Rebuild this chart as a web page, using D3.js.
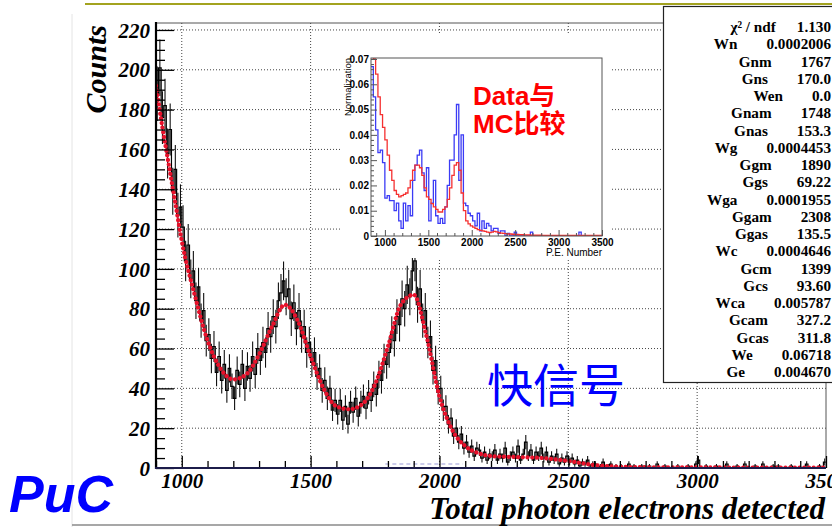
<!DOCTYPE html>
<html>
<head>
<meta charset="utf-8">
<script src="https://cdn.jsdelivr.net/npm/d3@7"></script>
<style>
  body { margin: 0; background: #fff; }
  svg { display: block; }
</style>
</head>
<body>
<script>
// main histogram, 10 p.e. bins starting at 900
var binStart = 900, binWidth = 10;
var counts = [
  188, 201, 176, 182, 158, 170, 139, 150, 127, 131,
  121, 104, 112, 95, 99, 84, 91, 74, 79, 64,
  67, 55, 61, 48, 56, 44, 52, 39, 50, 41,
  35, 49, 42, 52, 40, 51, 45, 56, 47, 60,
  54, 63, 58, 70, 66, 76, 71, 84, 88, 94,
  86, 90, 75, 83, 70, 79, 66, 71, 58, 63,
  53, 58, 46, 50, 39, 44, 35, 40, 29, 34,
  27, 34, 24, 31, 22, 33, 28, 35, 26, 33,
  36, 30, 38, 34, 42, 37, 47, 44, 55, 52,
  58, 68, 64, 76, 72, 85, 80, 92, 86, 99,
  104, 82, 90, 74, 79, 63, 66, 49, 54, 38,
  40, 29, 31, 22, 25, 16, 20, 13, 17, 10,
  13, 8, 11, 6, 10, 9, 5, 8, 4, 7,
  6, 9, 4, 7, 5, 10, 3, 6, 8, 5,
  11, 4, 7, 13, 6, 9, 4, 8, 6, 10,
  5, 8, 3, 6, 4, 7, 2, 5, 3, 6,
  3, 5, 2, 4, 1, 3, 2, 4, 1, 2,
  2, 0, 1, 3, 0, 1, 2, 0, 1, 0,
  1, 0, 0, 2, 0, 1, 0, 0, 1, 0,
  0, 1, 0, 0, 2, 0, 0, 1, 0, 0,
  0, 0, 1, 0, 0, 0, 1, 0, 0, 2,
  4, 0, 0, 1, 0, 0, 0, 1, 0, 0,
  0, 2, 0, 0, 0, 1, 0, 0, 2, 0,
  0, 0, 1, 0, 0, 2, 0, 0, 0, 1,
  0, 1, 0, 0, 0, 0, 1, 0, 0, 0,
  0, 0, 2, 0, 0, 0, 0, 1, 0, 3
];

// fit function
var fitX = [900, 925, 950, 975, 1000, 1050, 1100, 1150, 1200, 1250, 1300, 1350, 1400, 1450, 1500,
            1550, 1600, 1650, 1700, 1750, 1800, 1850, 1900, 1950, 2000, 2050, 2100, 2150, 2200,
            2300, 2400, 2500, 2600, 2700, 2800, 3000, 3500];
var fitY = [192, 171, 152, 133, 114, 87, 64, 50, 44.5, 47, 57, 71, 82, 74, 56,
            40, 31, 29.5, 32, 42, 61, 82, 87, 66, 36, 19, 11, 7.5, 6,
            5.5, 5, 3.5, 1.5, 0.6, 0.4, 0.3, 0.2];

// flat fit component (dashed)
var compX = [1790, 2090];
var compY = [2, 2];

var xTicks = [1000, 1500, 2000, 2500, 3000, 3500];
var yTicks = [0, 20, 40, 60, 80, 100, 120, 140, 160, 180, 200, 220];

// inset: Data vs MC, 100 bins from 840 to 3500
var insetStart = 840, insetBin = 26.6;
var dataNorm = [
  0.067, 0.055, 0.042, 0.033, 0.034, 0.029, 0.015, 0.016, 0.014, 0.014,
  0.010, 0.013, 0.006, 0.003, 0.013, 0.006, 0.012, 0.008, 0.022, 0.028,
  0.032, 0.034, 0.025, 0.018, 0.027, 0.006, 0.013, 0.022, 0.008, 0.005,
  0.007, 0.005, 0.0115, 0.020, 0.030, 0.030, 0.040, 0.052, 0.022, 0.040,
  0.013, 0.012, 0.009, 0.008, 0.006, 0.004, 0.009, 0.002, 0.006, 0.003,
  0.005, 0.004, 0.002, 0.003, 0.003, 0.001, 0.002, 0.002, 0, 0.001,
  0, 0, 0.0015, 0, 0, 0, 0, 0, 0, 0.0015,
  0, 0, 0, 0, 0, 0, 0, 0, 0, 0,
  0, 0, 0, 0, 0, 0, 0, 0, 0, 0,
  0.0015, 0, 0, 0, 0, 0, 0, 0, 0, 0
];
var mcNorm = [
  0.078, 0.070, 0.064, 0.055, 0.048, 0.043, 0.038, 0.032, 0.026, 0.022,
  0.018, 0.0165, 0.0155, 0.016, 0.0165, 0.017, 0.019, 0.022, 0.026, 0.028,
  0.028, 0.027, 0.024, 0.019, 0.0155, 0.0145, 0.0128, 0.0115, 0.0105, 0.0095,
  0.0095, 0.0105, 0.0115, 0.0145, 0.019, 0.024, 0.028, 0.029, 0.026, 0.017,
  0.010, 0.006, 0.0048, 0.004, 0.0035, 0.003, 0.0025, 0.0022, 0.002, 0.0018,
  0.0015, 0.0013, 0.0015, 0.0018, 0.0016, 0.0013, 0.0011, 0.001, 0.0009, 0.0008,
  0.0008, 0.0007, 0.0006, 0.0006, 0.0005, 0.0005, 0.0004, 0.0004, 0.0004, 0.0003,
  0.0003, 0.0003, 0.0003, 0.0003, 0.0002, 0.0002, 0.0002, 0.0002, 0.0002, 0.0002,
  0.0002, 0.0002, 0.0002, 0.0002, 0.0002, 0.0002, 0.0002, 0.0002, 0.0002, 0.0002,
  0.0002, 0.0002, 0.0002, 0.0002, 0.0002, 0.0002, 0.0002, 0.0002, 0.0002, 0.0002
];
var insetXTicks = [1000, 1500, 2000, 2500, 3000, 3500];
var insetYTicks = [0, 0.01, 0.02, 0.03, 0.04, 0.05, 0.06, 0.07];

// fit results box
var statNames = ["χ² / ndf", "Wn", "Gnm", "Gns", "Wen", "Gnam", "Gnas", "Wg", "Ggm", "Ggs", "Wga",
                 "Ggam", "Ggas", "Wc", "Gcm", "Gcs", "Wca", "Gcam", "Gcas", "We", "Ge"];
var statValues = ["1.130", "0.0002006", "1767", "170.0", "0.0", "1748", "153.3", "0.0004453", "1890",
                  "69.22", "0.0001955", "2308", "135.5", "0.0004646", "1399", "93.60", "0.005787",
                  "327.2", "311.8", "0.06718", "0.004670"];

var W = 832, H = 527;
var serif = "'Liberation Serif', 'Times New Roman', serif";
var sans = "'Liberation Sans', Arial, sans-serif";

var svg = d3.select("body").append("svg").attr("width", W).attr("height", H);

// page decoration
svg.append("line").attr("x1", 85).attr("x2", W).attr("y1", 4).attr("y2", 4)
  .attr("stroke", "#a3a31f").attr("stroke-width", 2);
svg.append("line").attr("x1", 72).attr("x2", 72).attr("y1", 14).attr("y2", H)
  .attr("stroke", "#e4e4e4").attr("stroke-width", 1);
svg.append("line").attr("x1", 72).attr("x2", W).attr("y1", 525).attr("y2", 525)
  .attr("stroke", "#8a8a8a").attr("stroke-width", 1.5);

var x = d3.scaleLinear().domain([900, 3500]).range([156, 826]);
var y = d3.scaleLinear().domain([0, 223.5]).range([468, 23]);

svg.append("clipPath").attr("id", "mainclip").append("rect")
  .attr("x", 156).attr("y", 23).attr("width", 670).attr("height", 445);

// grid
var grid = svg.append("g").attr("stroke", "#444").attr("stroke-width", 1).attr("stroke-dasharray", "1,2");
grid.selectAll(".gx").data(xTicks.filter(function(d) { return d < 3500; })).join("line")
  .attr("x1", function(d) { return x(d); }).attr("x2", function(d) { return x(d); })
  .attr("y1", 23).attr("y2", 468);
grid.selectAll(".gy").data(yTicks.filter(function(d) { return d > 0; })).join("line")
  .attr("y1", function(d) { return y(d); }).attr("y2", function(d) { return y(d); })
  .attr("x1", 156).attr("x2", 826);

// histogram with error bars
var plot = svg.append("g").attr("clip-path", "url(#mainclip)");
var bins = counts.map(function(c, i) { return { x0: binStart + i * binWidth, v: c }; });
plot.append("g").attr("stroke", "#111").attr("stroke-width", 1.1)
  .selectAll("line").data(bins.filter(function(d) { return d.v > 0; })).join("line")
  .attr("x1", function(d) { return x(d.x0 + binWidth / 2); })
  .attr("x2", function(d) { return x(d.x0 + binWidth / 2); })
  .attr("y1", function(d) { return y(d.v - Math.sqrt(d.v)); })
  .attr("y2", function(d) { return y(d.v + Math.sqrt(d.v)); });

var stepPts = bins.concat([{ x0: binStart + counts.length * binWidth, v: counts[counts.length - 1] }]);
plot.append("path").datum(stepPts)
  .attr("fill", "none").attr("stroke", "#000").attr("stroke-width", 1.2)
  .attr("d", d3.line().curve(d3.curveStepAfter)
    .x(function(d) { return x(d.x0); }).y(function(d) { return y(d.v); }));

// dashed component
plot.append("path").datum(d3.zip(compX, compY))
  .attr("fill", "none").attr("stroke", "#9a9ad8").attr("stroke-width", 1.2).attr("stroke-dasharray", "4,3")
  .attr("d", d3.line().x(function(d) { return x(d[0]); }).y(function(d) { return y(d[1]); }));

// fit curve
plot.append("path").datum(d3.zip(fitX, fitY))
  .attr("fill", "none").attr("stroke", "#e8102a").attr("stroke-width", 4.2)
  .attr("stroke-linecap", "round").attr("stroke-dasharray", "0.1,4.6")
  .attr("d", d3.line().curve(d3.curveMonotoneX)
    .x(function(d) { return x(d[0]); }).y(function(d) { return y(d[1]); }));

// frame
svg.append("line").attr("x1", 156).attr("x2", 826).attr("y1", 23).attr("y2", 23)
  .attr("stroke", "#555").attr("stroke-width", 1);
svg.append("line").attr("x1", 826).attr("x2", 826).attr("y1", 23).attr("y2", 468)
  .attr("stroke", "#555").attr("stroke-width", 1);

// axes
var yMinor = d3.range(0, 223, 5).filter(function(d) { return d % 20 !== 0; });
var xMinor = d3.range(900, 3501, 100).filter(function(d) { return d % 500 !== 0; });

var yAxis = svg.append("g").attr("transform", "translate(156,0)")
  .call(d3.axisLeft(y).tickValues(yTicks).tickSize(-18).tickPadding(6).tickFormat(d3.format("d")));
svg.append("g").attr("transform", "translate(156,0)")
  .call(d3.axisLeft(y).tickValues(yMinor).tickSize(-9).tickFormat(""));
var xAxis = svg.append("g").attr("transform", "translate(0,468)")
  .call(d3.axisBottom(x).tickValues(xTicks).tickSize(-12).tickPadding(5).tickFormat(d3.format("d")));
svg.append("g").attr("transform", "translate(0,468)")
  .call(d3.axisBottom(x).tickValues(xMinor).tickSize(-7).tickFormat(""));
svg.selectAll(".domain").remove();
svg.selectAll(".tick line").attr("stroke", "#000").attr("stroke-width", 1.3);
svg.selectAll(".tick text").attr("font-family", serif).attr("font-weight", "bold")
  .attr("font-style", "italic").attr("font-size", 21).attr("fill", "#000");
yAxis.selectAll(".tick text").attr("dy", "0.34em");
xAxis.selectAll(".tick text").attr("dy", "0.72em");

svg.append("line").attr("x1", 156).attr("x2", 156).attr("y1", 22).attr("y2", 469)
  .attr("stroke", "#000").attr("stroke-width", 2.2);
svg.append("line").attr("x1", 155).attr("x2", 826).attr("y1", 468).attr("y2", 468)
  .attr("stroke", "#1c1c4a").attr("stroke-width", 2.2);

// axis titles
svg.append("text").attr("transform", "translate(106,25) rotate(-90)")
  .attr("text-anchor", "end").attr("font-family", serif).attr("font-weight", "bold")
  .attr("font-style", "italic").attr("font-size", 30).text("Counts");
svg.append("text").attr("x", 825).attr("y", 519).attr("text-anchor", "end")
  .attr("font-family", serif).attr("font-weight", "bold").attr("font-style", "italic")
  .attr("font-size", 31).text("Total photon electrons detected");

// ---------- inset ----------
svg.append("rect").attr("x", 340).attr("y", 35).attr("width", 272).attr("height", 223).attr("fill", "#fff");
var ix = d3.scaleLinear().domain([840, 3500]).range([371, 602]);
var iy = d3.scaleLinear().domain([0, 0.0704]).range([236, 58]);
svg.append("clipPath").attr("id", "insetclip").append("rect")
  .attr("x", 371).attr("y", 58).attr("width", 231).attr("height", 178);

function insetSteps(vals) {
  var pts = vals.map(function(v, i) { return [insetStart + i * insetBin, v]; });
  pts.push([insetStart + vals.length * insetBin, vals[vals.length - 1]]);
  return pts;
}
var insetLine = d3.line().curve(d3.curveStepAfter)
  .x(function(d) { return ix(d[0]); }).y(function(d) { return iy(d[1]); });
var inset = svg.append("g").attr("clip-path", "url(#insetclip)");
inset.append("path").datum(insetSteps(dataNorm)).attr("fill", "none")
  .attr("stroke", "#3b3bf5").attr("stroke-width", 1.3).attr("d", insetLine);
inset.append("path").datum(insetSteps(mcNorm)).attr("fill", "none")
  .attr("stroke", "#f53030").attr("stroke-width", 1.3).attr("d", insetLine);

var iyMinor = d3.range(0, 0.0705, 0.002).filter(function(d) { return Math.abs(d * 100 - Math.round(d * 100)) > 1e-6; });
var ixMinor = d3.range(900, 3501, 100).filter(function(d) { return d % 500 !== 0; });
svg.append("g").attr("class", "iax").attr("transform", "translate(371,0)")
  .call(d3.axisLeft(iy).tickValues(insetYTicks).tickSize(-6).tickPadding(2)
    .tickFormat(function(d) { return d === 0 ? "0" : d3.format(".2f")(d); }));
svg.append("g").attr("class", "iax").attr("transform", "translate(371,0)")
  .call(d3.axisLeft(iy).tickValues(iyMinor).tickSize(-3).tickFormat(""));
svg.append("g").attr("class", "iax").attr("transform", "translate(0,236)")
  .call(d3.axisBottom(ix).tickValues(insetXTicks).tickSize(-6).tickPadding(3).tickFormat(d3.format("d")));
svg.append("g").attr("class", "iax").attr("transform", "translate(0,236)")
  .call(d3.axisBottom(ix).tickValues(ixMinor).tickSize(-3).tickFormat(""));
svg.selectAll(".iax .domain").remove();
svg.selectAll(".iax .tick line").attr("stroke", "#555").attr("stroke-width", 1);
svg.selectAll(".iax .tick text").attr("font-family", sans).attr("font-weight", "bold")
  .attr("font-style", "normal").attr("font-size", 10).attr("fill", "#000");
svg.append("rect").attr("x", 371).attr("y", 58).attr("width", 231).attr("height", 178)
  .attr("fill", "none").attr("stroke", "#555").attr("stroke-width", 1);

svg.append("text").attr("transform", "translate(351,58) rotate(-90)").attr("text-anchor", "end")
  .attr("font-family", sans).attr("font-size", 9.5).text("Normalization");
svg.append("text").attr("x", 602).attr("y", 256).attr("text-anchor", "end")
  .attr("font-family", sans).attr("font-size", 10).text("P.E. Number");

var cmp = svg.append("g").attr("fill", "#ff0000").attr("font-weight", "bold").attr("font-size", 26)
  .attr("font-family", "'Liberation Sans', Arial, 'Noto Sans CJK SC', sans-serif");
cmp.append("text").attr("x", 473).attr("y", 105).text("Data与");
cmp.append("text").attr("x", 473).attr("y", 133).text("MC比较");

// ---------- fit results box ----------
svg.append("rect").attr("x", 663.5).attr("y", 6.5).attr("width", 200).attr("height", 376)
  .attr("fill", "#fff").attr("stroke", "#222").attr("stroke-width", 1.2);
var rows = svg.append("g").attr("font-family", serif).attr("font-weight", "bold").attr("font-size", 15.2);
statNames.forEach(function(name, i) {
  var yy = 27 + i * 17.25 + 5;
  var val = rows.append("text").attr("x", 831).attr("y", yy).attr("text-anchor", "end").text(statValues[i]);
  var w = val.node().getComputedTextLength();
  rows.append("text").attr("x", 831 - w - (i === 0 ? 21 : 29)).attr("y", yy)
    .attr("text-anchor", "end").text(name);
});

// annotations
svg.append("text").attr("x", 487).attr("y", 402)
  .attr("font-family", "'Noto Sans CJK SC', sans-serif").attr("font-size", 46)
  .attr("fill", "#0000ff").text("快信号");
svg.append("text").attr("x", 9).attr("y", 512)
  .attr("font-family", sans).attr("font-weight", "bold").attr("font-style", "italic")
  .attr("font-size", 52).attr("fill", "#0000ff").text("PuC");
</script>
</body>
</html>
